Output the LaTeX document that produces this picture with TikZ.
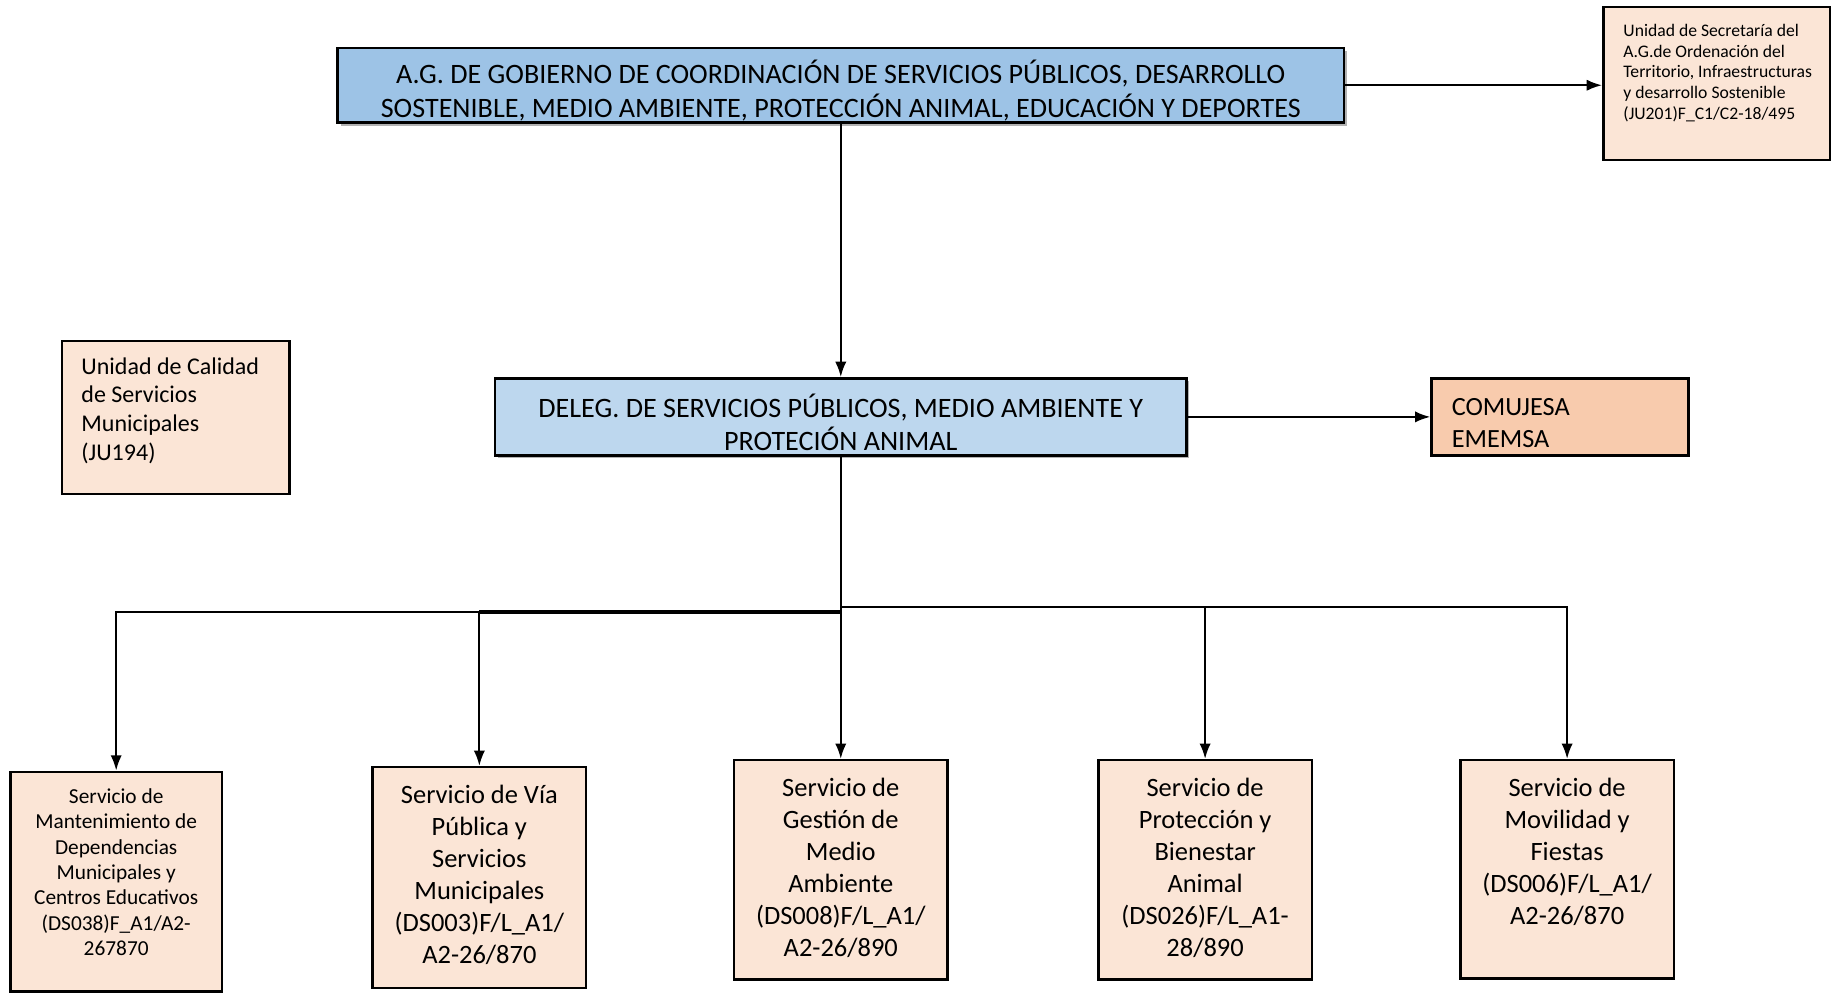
\documentclass[tikz,border=0pt]{standalone}
\usepackage{fontspec}
\setmainfont{Carlito}
\usetikzlibrary{positioning,shadows,arrows.meta}
\definecolor{azul}{HTML}{9DC3E6}
\definecolor{azulclaro}{HTML}{BDD7EE}
\definecolor{salmon}{HTML}{FBE5D6}
\definecolor{naranja}{HTML}{F8CBAD}
\tikzset{
    caja/.style={draw, line width=1.2pt, inner sep=0pt},
    sombra/.style={drop shadow={shadow xshift=1.5pt, shadow yshift=-1.5pt, fill=gray!60, opacity=1}},
    txt/.style={inner sep=0pt, align=center},
    flecha/.style={->, line width=1.1pt},
}
\begin{document}
\begin{tikzpicture}[>={Latex[length=7.5pt,width=5.5pt]}, x=0.02cm, y=-0.02cm]
\useasboundingbox (0,0) rectangle (1568,852);
% cabecera
\node[caja, sombra, fill=azul, minimum width=17.24cm, minimum height=1.28cm] (ag) at (720,73) {};
\node[txt, font=\fontsize{13.7}{16.5}\selectfont, yshift=-2.6pt] (agt) at (ag.center)
    {A.G. DE GOBIERNO DE COORDINACIÓN DE SERVICIOS PÚBLICOS, DESARROLLO\\SOSTENIBLE, MEDIO AMBIENTE, PROTECCIÓN ANIMAL, EDUCACIÓN Y DEPORTES};
\node[caja, fill=salmon, minimum width=3.88cm, minimum height=2.62cm] (sec) at (1470,71.5) {};
\node[txt, align=left, font=\fontsize{8.6}{10.2}\selectfont, below right=8.6pt and 10.2pt of sec.north west] (sect)
    {Unidad de Secretaría del\\A.G.de Ordenación del\\Territorio, Infraestructuras\\y desarrollo Sostenible\\(JU201)F\_C1/C2-18/495};
% delegacion
\node[caja, sombra, fill=azulclaro, minimum width=11.84cm, minimum height=1.32cm] (deleg) at (720,357) {};
\node[txt, font=\fontsize{13.7}{16}\selectfont, yshift=-2.6pt] (delegt) at (deleg.center)
    {DELEG. DE SERVICIOS PÚBLICOS, MEDIO AMBIENTE Y\\PROTECIÓN ANIMAL};
\node[caja, fill=naranja, minimum width=4.4cm, minimum height=1.32cm] (comu) at (1336,357) {};
\node[txt, align=left, font=\fontsize{12.8}{16}\selectfont, right=10.2pt of comu.west, yshift=-3pt] (comut)
    {COMUJESA\\EMEMSA};
\node[caja, fill=salmon, minimum width=3.9cm, minimum height=2.62cm] (cal) at (150.5,357.5) {};
\node[txt, align=left, font=\fontsize{11.7}{14}\selectfont, below right=8.4pt and 9.9pt of cal.north west] (calt)
    {Unidad de Calidad\\de Servicios\\Municipales\\(JU194)};
% servicios
\node[caja, fill=salmon, minimum width=3.62cm, minimum height=3.76cm] (s1) at (99.5,755) {};
\node[caja, fill=salmon, minimum width=3.66cm, minimum height=3.78cm] (s2) at (410.5,751.5) {};
\node[caja, fill=salmon, minimum width=3.66cm, minimum height=3.76cm] (s3) at (720,745) {};
\node[caja, fill=salmon, minimum width=3.66cm, minimum height=3.76cm] (s4) at (1032,745) {};
\node[caja, fill=salmon, minimum width=3.66cm, minimum height=3.74cm] (s5) at (1342,744.5) {};
\node[txt, font=\fontsize{10.4}{12.4}\selectfont, below=8.4pt of s1.north] (s1t)
    {Servicio de\\Mantenimiento de\\Dependencias\\Municipales y\\Centros Educativos\\(DS038)F\_A1/A2-\\267870};
\node[txt, font=\fontsize{12.9}{15.6}\selectfont, below=9pt of s2.north] (s2t)
    {Servicio de Vía\\Pública y\\Servicios\\Municipales\\(DS003)F/L\_A1/\\A2-26/870};
\node[txt, font=\fontsize{12.9}{15.6}\selectfont, below=9pt of s3.north] (s3t)
    {Servicio de\\Gestión de\\Medio\\Ambiente\\(DS008)F/L\_A1/\\A2-26/890};
\node[txt, font=\fontsize{12.9}{15.6}\selectfont, below=9pt of s4.north] (s4t)
    {Servicio de\\Protección y\\Bienestar\\Animal\\(DS026)F/L\_A1-\\28/890};
\node[txt, font=\fontsize{12.9}{15.6}\selectfont, below=9pt of s5.north] (s5t)
    {Servicio de\\Movilidad y\\Fiestas\\(DS006)F/L\_A1/\\A2-26/870};
% conectores
\draw[flecha] (ag.east) -- (ag.east -| sec.west);
\draw[flecha] (ag.south) -- (deleg.north);
\draw[flecha] (deleg.east) -- (comu.west);
\coordinate (izq) at (720,524);
\coordinate (der) at (720,520);
\draw[line width=1.1pt] (deleg.south) -- (izq);
\draw[line width=2.2pt] (izq) -- (izq -| s2.north);
\draw[flecha] (izq) -| (s1.north);
\draw[flecha] (izq) -| (s2.north);
\draw[flecha] (deleg.south) -- (s3.north);
\foreach \n in {s4,s5}
{
    \draw[flecha] (der) -| (\n.north);
}
\end{tikzpicture}
\end{document}
